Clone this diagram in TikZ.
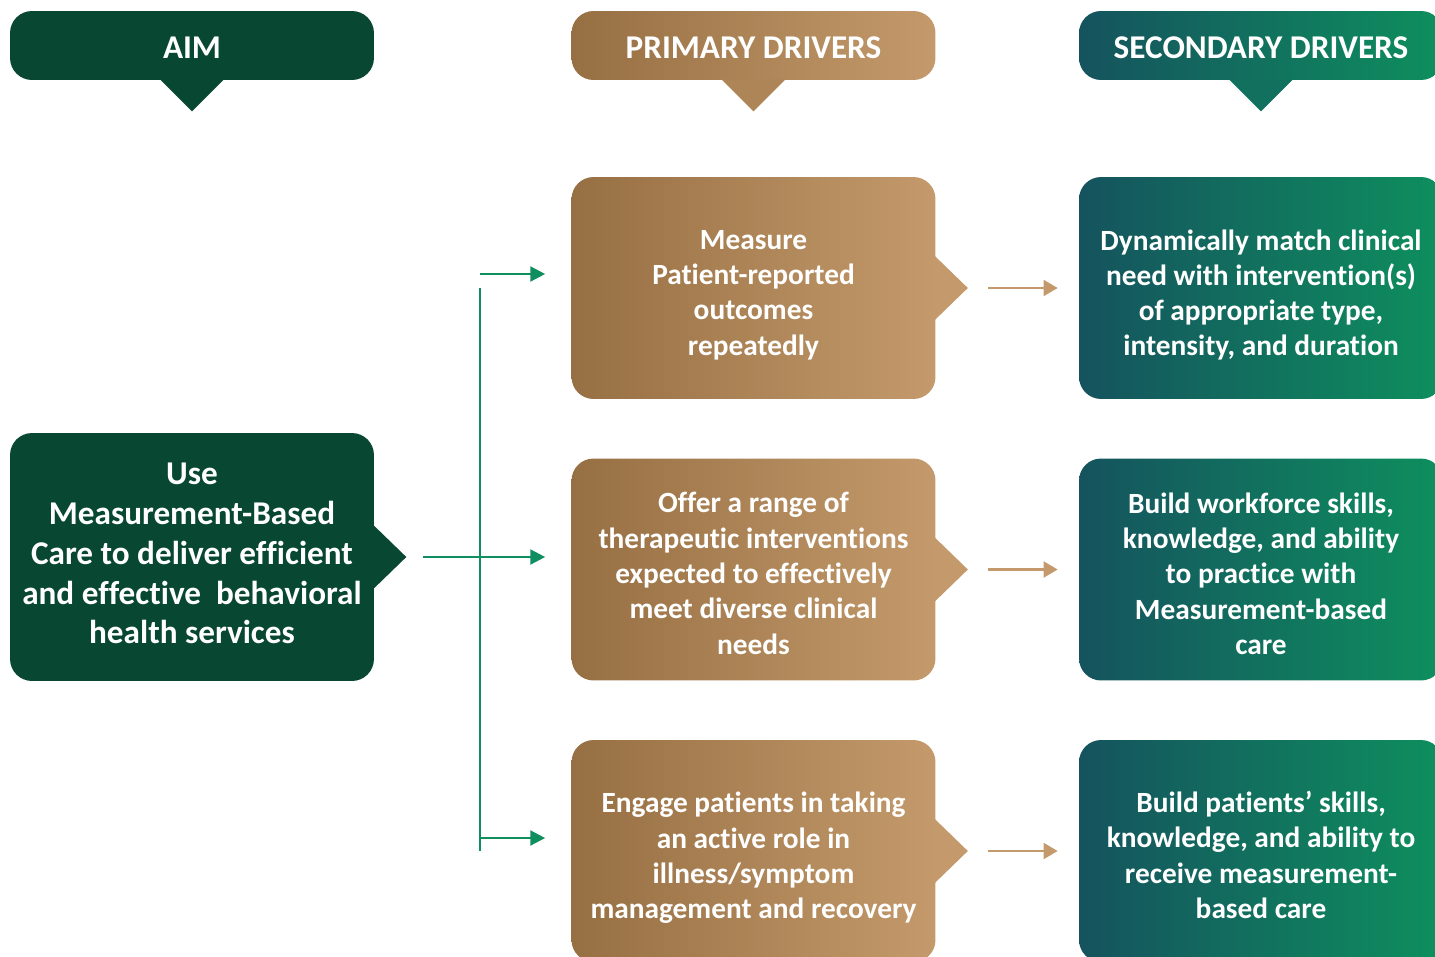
\documentclass[tikz,border=0pt]{standalone}
\usepackage{fontspec}
\setmainfont{Carlito}[Ligatures=CommonOff]
\usepackage{tikz}
\usetikzlibrary{arrows.meta}

\definecolor{aimgreen}{HTML}{084832}
\definecolor{brownL}{HTML}{966F42}
\definecolor{brownR}{HTML}{C49A6C}
\definecolor{tealL}{HTML}{15535E}
\definecolor{tealR}{HTML}{0E8F5E}
\definecolor{linegreen}{HTML}{0F8F60}

\begin{document}
\begin{tikzpicture}[x=0.02cm,y=-0.02cm]
	\tikzstyle{every node}+=[inner sep=0pt, text=white, align=center]
	\tikzstyle{hdr}=[rounded corners=0.44cm, minimum width=7.28cm, minimum height=1.38cm]
	\tikzstyle{drvbox}=[rounded corners=0.44cm, minimum width=7.28cm, minimum height=4.44cm]
	\tikzstyle{bigtext}=[font=\fontsize{18.9}{22.7}\selectfont\bfseries]
	\tikzstyle{drvtext}=[font=\fontsize{16.7}{20.1}\selectfont\bfseries, yshift=-0.14cm]
	\tikzstyle{drvtextb}=[font=\fontsize{16.7}{20.1}\selectfont\bfseries, yshift=-0.08cm]
	\tikzstyle{brownfill}=[left color=brownL, right color=brownR]
	\tikzstyle{tealfill}=[left color=tealL, right color=tealR]
	\tikzstyle{garrow}=[draw=linegreen, line width=1.4pt, -{Triangle[length=8.5pt,width=8.5pt]}]
	\tikzstyle{barrow}=[draw=brownR, line width=1.4pt, -{Triangle[length=8pt,width=9pt]}]
	\useasboundingbox (0,0) rectangle (1435,956);
	\clip (0,0) rectangle (1435,956);
	% headers
	\node [hdr, fill=aimgreen] (aimhd) at (192,45.5) {};
	\fill [aimgreen] (aimhd.south) ++(-32,-1) -- ++(32,32) -- ++(32,-32) -- cycle;
	\node [bigtext, yshift=-0.04cm] (aimhdt) at (aimhd) {AIM};
	\node [hdr, brownfill] (primhd) at (753.5,45.5) {};
	\fill [brownL!50!brownR] (primhd.south) ++(-32,-1) -- ++(32,32) -- ++(32,-32) -- cycle;
	\node [bigtext, yshift=-0.04cm] (primhdt) at (primhd) {PRIMARY DRIVERS};
	\node [hdr, tealfill] (sechd) at (1261,45.5) {};
	\fill [tealL!50!tealR] (sechd.south) ++(-32,-1) -- ++(32,32) -- ++(32,-32) -- cycle;
	\node [bigtext, yshift=-0.04cm] (sechdt) at (sechd) {SECONDARY DRIVERS};
	% aim
	\node [drvbox, fill=aimgreen, minimum height=4.96cm] (aim) at (192,557) {};
	\fill [aimgreen] (aim.east) ++(-1,-32) -- ++(33,32) -- ++(-33,32) -- cycle;
	\node [bigtext, yshift=0.07cm] (aimt) at (aim)
		{Use\\Measurement-Based\\Care to deliver efficient\\and effective\ \ behavioral\\health services};
	% primary drivers
	\node [drvbox, brownfill] (prim1) at (753.5,288) {};
	\fill [brownR] (prim1.east) ++(-1,-32) -- ++(33,32) -- ++(-33,32) -- cycle;
	\node [drvtext] (prim1t) at (prim1)
		{Measure\\Patient-reported\\outcomes\\repeatedly};
	\node [drvbox, brownfill] (prim2) at (753.5,569.5) {};
	\fill [brownR] (prim2.east) ++(-1,-32) -- ++(33,32) -- ++(-33,32) -- cycle;
	\node [drvtextb] (prim2t) at (prim2)
		{Offer a range of\\therapeutic interventions\\expected to effectively\\meet diverse clinical\\needs};
	\node [drvbox, brownfill] (prim3) at (753.5,851) {};
	\fill [brownR] (prim3.east) ++(-1,-32) -- ++(33,32) -- ++(-33,32) -- cycle;
	\node [drvtext] (prim3t) at (prim3)
		{Engage patients in taking\\an active role in\\illness/symptom\\management and recovery};
	% secondary drivers
	\node [drvbox, tealfill] (sec1) at (1261,288) {};
	\node [drvtext] (sec1t) at (sec1)
		{Dynamically match clinical\\need with intervention(s)\\of appropriate type,\\intensity, and duration};
	\node [drvbox, tealfill] (sec2) at (1261,569.5) {};
	\node [drvtextb] (sec2t) at (sec2)
		{Build workforce skills,\\knowledge, and ability\\to practice with\\Measurement-based\\care};
	\node [drvbox, tealfill] (sec3) at (1261,851) {};
	\node [drvtextb] (sec3t) at (sec3)
		{Build patients’ skills,\\knowledge, and ability to\\receive measurement-\\based care};
	% connectors
	\coordinate (ftop) at (480,288);
	\coordinate (fbot) at (480,851);
	\draw [draw=linegreen, line width=1.4pt] (ftop) -- (fbot);
	\draw [garrow] (480,274) -- ([shift={(-26,-14)}]prim1.west);
	\draw [garrow] ([shift={(49,0)}]aim.east) -- ([shift={(-26,-12.5)}]prim2.west);
	\draw [garrow] (480,838) -- ([shift={(-26,-13)}]prim3.west);
	\draw [barrow] ([shift={(52,0)}]prim1.east) -- ([shift={(-21,0)}]sec1.west);
	\draw [barrow] ([shift={(52,0)}]prim2.east) -- ([shift={(-21,0)}]sec2.west);
	\draw [barrow] ([shift={(52,0)}]prim3.east) -- ([shift={(-21,0)}]sec3.west);
\end{tikzpicture}
\end{document}
